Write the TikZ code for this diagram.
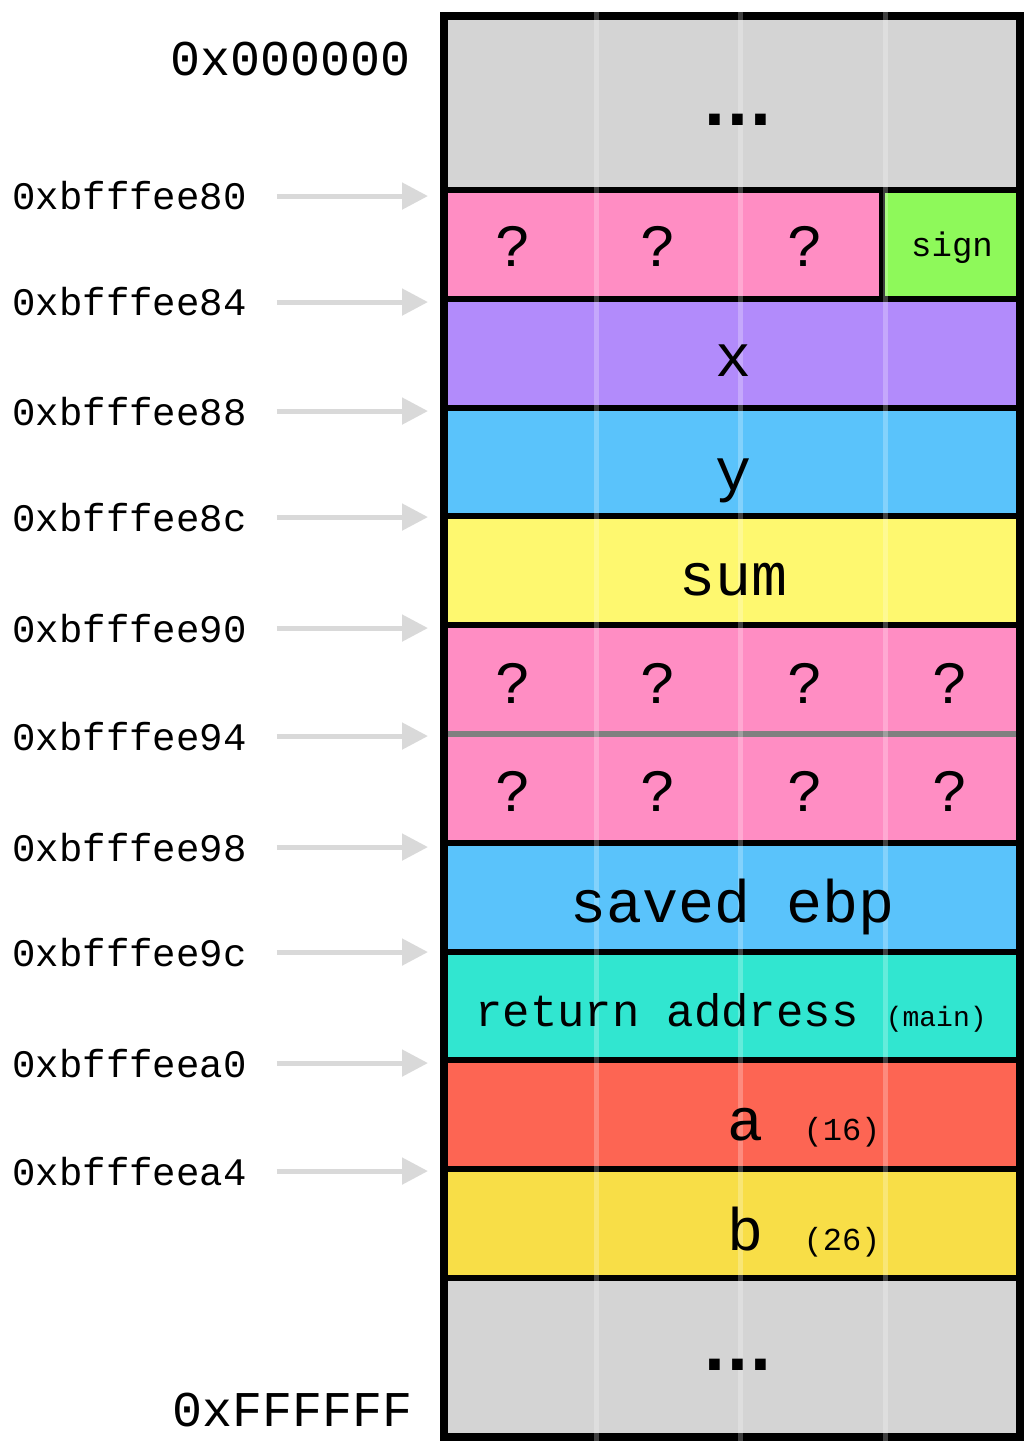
\documentclass[tikz,border=0pt]{standalone}
\usepackage{fontspec}
\setmainfont{Liberation Mono}
\newfontfamily\dotfont{DejaVu Sans}
\usepackage{tikz}
\usetikzlibrary{arrows.meta}

\definecolor{cgray}{HTML}{D4D4D4}
\definecolor{cpink}{HTML}{FF8DC3}
\definecolor{cgreen}{HTML}{8EF95A}
\definecolor{cpurple}{HTML}{B28BFB}
\definecolor{cblue}{HTML}{5AC3FB}
\definecolor{csum}{HTML}{FEF86F}
\definecolor{cteal}{HTML}{31E6D0}
\definecolor{cred}{HTML}{FD6553}
\definecolor{cyel}{HTML}{F8DE47}
\definecolor{carrow}{HTML}{D9D9D9}

\newcommand{\fsz}[1]{\fontsize{#1}{#1}\selectfont}

\tikzset{
  addr/.style={anchor=base west, inner sep=0pt, font=\fsz{19.5pt}},
  bound/.style={anchor=base east, inner sep=0pt, font=\fsz{25pt}},
  cell/.style={anchor=base, inner sep=0pt, font=\fsz{30pt}},
  dots/.style={anchor=base, inner sep=0pt, font=\dotfont\bfseries\fsz{30pt}},
  sep/.style={line width=3pt},
  colline/.style={draw=white, opacity=0.25, line width=2.5pt},
  addrarrow/.style={draw=carrow, line width=2.5pt, -{Triangle[length=13pt,width=13pt]}, shorten <=15pt},
}

\begin{document}
\begin{tikzpicture}[x=0.5pt, y=-0.5pt]
    \useasboundingbox (0,0) rectangle (1034,1454);

    % Memory block
    \fill[cgray] (444,16) rectangle (1020,1437);

    % Rows
    \fill[cpink]   (444,190)    rectangle (882,298.8);
    \fill[cgreen]  (882,190)    rectangle (1020,298.8);
    \fill[cpurple] (444,298.8)  rectangle (1020,407.6);
    \fill[cblue]   (444,407.6)  rectangle (1020,516.4);
    \fill[csum]    (444,516.4)  rectangle (1020,625.2);
    \fill[cpink]   (444,625.2)  rectangle (1020,842.8);
    \fill[cblue]   (444,842.8)  rectangle (1020,951.6);
    \fill[cteal]   (444,951.6)  rectangle (1020,1060.4);
    \fill[cred]    (444,1060.4) rectangle (1020,1169.2);
    \fill[cyel]    (444,1169.2) rectangle (1020,1278);

    % Sections
    \draw[sep] (444,190) -- (1020,190);
    \draw[sep] (444,298.8) -- (1020,298.8);
    \draw[sep] (444,407.6) -- (1020,407.6);
    \draw[sep] (444,516.4) -- (1020,516.4);
    \draw[sep] (444,625.2) -- (1020,625.2);
    \draw[sep, draw=gray] (444,734) -- (1020,734);
    \draw[sep] (444,842.8) -- (1020,842.8);
    \draw[sep] (444,951.6) -- (1020,951.6);
    \draw[sep] (444,1060.4) -- (1020,1060.4);
    \draw[sep] (444,1169.2) -- (1020,1169.2);
    \draw[sep] (444,1278) -- (1020,1278);
    \draw[sep] (882,190) -- (882,298.8);

    % Frame
    \draw[line width=4pt] (444,16) rectangle (1020,1437);

    % Byte columns
    \draw[colline] (596,12) -- (596,1442);
    \draw[colline] (740,12) -- (740,1442);
    \draw[colline] (885,12) -- (885,1442);

    % Labels
    \node[dots] (dtop) at (738,126) {...};
    \node[cell] (q1a) at (513,267) {?};
    \node[cell] (q1b) at (658,267) {?};
    \node[cell] (q1c) at (805,267) {?};
    \node[cell, font=\fsz{17pt}] (sign) at (952,257) {sign};
    \node[cell] (vx) at (733,377) {x};
    \node[cell] (vy) at (733,490) {y};
    \node[cell] (sum) at (733,595) {sum};
    \node[cell] (q2a) at (513,703) {?};
    \node[cell] (q2b) at (658,703) {?};
    \node[cell] (q2c) at (805,703) {?};
    \node[cell] (q2d) at (950,703) {?};
    \node[cell] (q3a) at (513,811) {?};
    \node[cell] (q3b) at (658,811) {?};
    \node[cell] (q3c) at (805,811) {?};
    \node[cell] (q3d) at (950,811) {?};
    \node[cell] (ebp) at (733,922) {saved ebp};
    \node[cell, font=\fsz{22.8pt}] (ret) at (731,1026) {return address {\fsz{14pt}(main)}};
    \node[cell] (va) at (745,1140) {a};
    \node[cell, font=\fsz{16pt}] (va16) at (842,1140) {(16)};
    \node[cell] (vb) at (745,1250) {b};
    \node[cell, font=\fsz{16pt}] (vb26) at (842,1250) {(26)};
    \node[dots] (dbot) at (738,1370) {...};

    % Bounds
    \node[bound] (lo) at (411,76) {0x000000};
    \node[bound] (hi) at (413,1426) {0xFFFFFF};

    % Addresses
    \coordinate (fr) at (428,0);
    \node[addr] (a80) at (12,210) {0xbfffee80};
    \node[addr] (a84) at (12,316) {0xbfffee84};
    \node[addr] (a88) at (12,425) {0xbfffee88};
    \node[addr] (a8c) at (12,531) {0xbfffee8c};
    \node[addr] (a90) at (12,642) {0xbfffee90};
    \node[addr] (a94) at (12,750) {0xbfffee94};
    \node[addr] (a98) at (12,861) {0xbfffee98};
    \node[addr] (a9c) at (12,966) {0xbfffee9c};
    \node[addr] (aa0) at (12,1077) {0xbfffeea0};
    \node[addr] (aa4) at (12,1185) {0xbfffeea4};

    \draw[addrarrow] (a80.east) -- (a80.east -| fr);
    \draw[addrarrow] (a84.east) -- (a84.east -| fr);
    \draw[addrarrow] (a88.east) -- (a88.east -| fr);
    \draw[addrarrow] (a8c.east) -- (a8c.east -| fr);
    \draw[addrarrow] (a90.east) -- (a90.east -| fr);
    \draw[addrarrow] (a94.east) -- (a94.east -| fr);
    \draw[addrarrow] (a98.east) -- (a98.east -| fr);
    \draw[addrarrow] (a9c.east) -- (a9c.east -| fr);
    \draw[addrarrow] (aa0.east) -- (aa0.east -| fr);
    \draw[addrarrow] (aa4.east) -- (aa4.east -| fr);

\end{tikzpicture}
\end{document}
